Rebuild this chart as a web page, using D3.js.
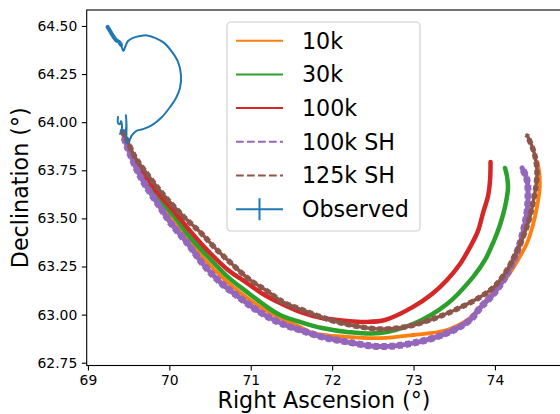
<!DOCTYPE html>
<html>
<head>
<meta charset="utf-8">
<script src="https://cdn.jsdelivr.net/npm/d3@7/dist/d3.min.js"></script>
<style>
  body { margin: 0; background: #fff; }
  text { font-family: "DejaVu Sans", sans-serif; }
</style>
</head>
<body>
<svg id="chart" width="560" height="414"></svg>
<script>
var raTicks = [69, 70, 71, 72, 73, 74]
  , decTicks = [62.75, 63.00, 63.25, 63.50, 63.75, 64.00, 64.25, 64.50]
  , labels = ['10k', '30k', '100k', '100k SH', '125k SH', 'Observed']

var ra10k = [69.444, 69.493, 69.591, 69.701, 69.873, 70.033, 70.254, 70.463, 70.684, 70.893, 71.114, 71.360, 71.606, 71.765, 72.183, 72.588, 72.994, 73.411, 73.694, 73.817, 74.001, 74.148, 74.283, 74.394, 74.467, 74.516, 74.548, 74.548, 74.523]
  , dec10k = [63.928, 63.876, 63.778, 63.694, 63.590, 63.492, 63.383, 63.273, 63.180, 63.107, 63.040, 62.982, 62.936, 62.904, 62.884, 62.878, 62.894, 62.920, 62.982, 63.040, 63.128, 63.195, 63.284, 63.372, 63.466, 63.559, 63.648, 63.720, 63.793]

var ra30k = [69.431, 69.480, 69.579, 69.689, 69.861, 70.058, 70.254, 70.500, 70.721, 70.955, 71.151, 71.360, 71.606, 71.876, 72.183, 72.588, 72.994, 73.411, 73.730, 73.878, 73.976, 74.062, 74.123, 74.160, 74.148, 74.123]
  , dec30k = [63.944, 63.897, 63.798, 63.715, 63.611, 63.512, 63.403, 63.289, 63.195, 63.117, 63.055, 62.998, 62.962, 62.930, 62.910, 62.904, 62.951, 63.055, 63.195, 63.284, 63.372, 63.466, 63.559, 63.658, 63.720, 63.762]

var ra100k = [69.419, 69.468, 69.566, 69.677, 69.849, 70.045, 70.254, 70.500, 70.721, 70.955, 71.151, 71.360, 71.606, 71.876, 72.183, 72.404, 72.650, 72.994, 73.227, 73.411, 73.571, 73.694, 73.792, 73.853, 73.915, 73.940, 73.946]
  , dec100k = [63.954, 63.907, 63.814, 63.736, 63.637, 63.544, 63.435, 63.320, 63.232, 63.164, 63.107, 63.060, 63.014, 62.982, 62.967, 62.962, 62.972, 63.040, 63.107, 63.180, 63.263, 63.351, 63.435, 63.528, 63.616, 63.700, 63.793]

var ra100kSH = [69.444, 69.493, 69.603, 69.714, 69.886, 70.009, 70.230, 70.414, 70.623, 70.820, 71.016, 71.213, 71.422, 71.606, 71.876, 72.183, 72.588, 72.994, 73.411, 73.694, 73.817, 74.001, 74.148, 74.271, 74.345, 74.394, 74.406, 74.394, 74.333]
  , dec100kSH = [63.918, 63.861, 63.752, 63.668, 63.559, 63.481, 63.367, 63.263, 63.169, 63.102, 63.040, 62.988, 62.946, 62.920, 62.884, 62.858, 62.834, 62.852, 62.904, 62.972, 63.034, 63.117, 63.211, 63.325, 63.429, 63.533, 63.611, 63.700, 63.762]

var ra125kSH = [69.431, 69.480, 69.579, 69.701, 69.849, 69.972, 70.168, 70.377, 70.586, 70.782, 70.991, 71.200, 71.397, 71.606, 71.974, 72.281, 72.588, 72.895, 73.202, 73.509, 73.817, 74.001, 74.148, 74.259, 74.345, 74.419, 74.467, 74.504, 74.516, 74.479, 74.394]
  , dec125kSH = [63.954, 63.907, 63.819, 63.746, 63.663, 63.601, 63.512, 63.429, 63.336, 63.258, 63.180, 63.123, 63.065, 63.029, 62.972, 62.941, 62.925, 62.936, 62.972, 63.024, 63.091, 63.149, 63.232, 63.320, 63.403, 63.492, 63.580, 63.668, 63.752, 63.845, 63.933]

var raObs = [69.241, 69.272, 69.308, 69.345, 69.382, 69.407, 69.437, 69.462, 69.493, 69.554, 69.640, 69.726, 69.824, 69.935, 70.033, 70.107, 70.143, 70.131, 70.082, 70.009, 69.910, 69.787, 69.677, 69.591, 69.542, 69.505, 69.480, 69.474, 69.468, 69.462, 69.419, 69.394, 69.419, 69.407, 69.394, 69.370, 69.370]
  , decObs = [64.495, 64.474, 64.448, 64.427, 64.417, 64.401, 64.370, 64.396, 64.422, 64.438, 64.448, 64.451, 64.438, 64.412, 64.365, 64.313, 64.245, 64.178, 64.126, 64.079, 64.027, 63.985, 63.964, 63.954, 63.933, 63.902, 63.892, 63.985, 64.037, 63.959, 63.954, 63.938, 63.970, 64.006, 63.990, 63.996, 64.027]

var svg = d3.select('svg#chart')
  , pLeft = 86.7, pRight = 561.3, pTop = 10, pBottom = 365.5

var x = d3.scaleLinear().domain([68.985, 74.815]).range([pLeft, pRight])
  , y = d3.scaleLinear().domain([62.7355, 64.583]).range([pBottom, pTop])

var zip = function(ra, dec) { return ra.map(function(r, i) { return [r, dec[i]] }) }

var line = d3.line()
  .x(function(d) { return x(d[0]) })
  .y(function(d) { return y(d[1]) })
  .curve(d3.curveCatmullRom)

svg.append('clipPath').attr('id', 'plot')
  .append('rect').attr('x', pLeft).attr('y', pTop)
  .attr('width', pRight - pLeft).attr('height', pBottom - pTop)

var plot = svg.append('g').attr('clip-path', 'url(#plot)')

// each model is a band of many tracks: thick stroke, dashed ones get a jagged outer layer
var models = [
  { pts: zip(ra10k, dec10k), color: '#ff7f0e', w: 3.8 },
  { pts: zip(ra30k, dec30k), color: '#2ca02c', w: 4.5 },
  { pts: zip(ra100k, dec100k), color: '#d62728', w: 4.5 },
  { pts: zip(ra100kSH, dec100kSH), color: '#9467bd', w: 5, dash: 7 },
  { pts: zip(ra125kSH, dec125kSH), color: '#8c564b', w: 3.5, dash: 5.5 }
]

models.forEach(function(m) {
  plot.append('path').attr('d', line(m.pts))
    .attr('fill', 'none').attr('stroke', m.color)
    .attr('stroke-width', m.w).attr('stroke-linecap', 'round')
  if (m.dash) {
    plot.append('path').attr('d', line(m.pts))
      .attr('fill', 'none').attr('stroke', m.color)
      .attr('stroke-width', m.dash).attr('stroke-dasharray', '5,3')
  }
})

plot.append('path').attr('d', line(zip(raObs, decObs)))
  .attr('fill', 'none').attr('stroke', '#1f77b4')
  .attr('stroke-width', 2).attr('stroke-linejoin', 'round').attr('stroke-linecap', 'round')

// thicker start of the observed track
plot.append('path').attr('d', line(zip(raObs.slice(0, 6), decObs.slice(0, 6))))
  .attr('fill', 'none').attr('stroke', '#1f77b4')
  .attr('stroke-width', 4).attr('stroke-linecap', 'round')

// axes
var xAxis = d3.axisBottom(x).tickValues(raTicks).tickSize(4.9).tickPadding(4.5).tickFormat(d3.format('d'))
  , yAxis = d3.axisLeft(y).tickValues(decTicks).tickSize(4.9).tickPadding(4.5).tickFormat(d3.format('.2f'))

var gx = svg.append('g').attr('transform', 'translate(0,' + pBottom + ')').call(xAxis)
var gy = svg.append('g').attr('transform', 'translate(' + pLeft + ',0)').call(yAxis)

;[gx, gy].forEach(function(g) {
  g.attr('font-size', null).attr('font-family', null)
  g.select('.domain').remove()
  g.selectAll('line').attr('stroke', '#000').attr('stroke-width', 1.1)
  g.selectAll('text').style('font-size', '13.9px').attr('fill', '#000')
})

svg.append('rect').attr('x', pLeft).attr('y', pTop)
  .attr('width', pRight - pLeft).attr('height', pBottom - pTop)
  .attr('fill', 'none').attr('stroke', '#000').attr('stroke-width', 1.1)

svg.append('text').attr('x', (pLeft + pRight) / 2).attr('y', 408)
  .attr('text-anchor', 'middle').style('font-size', '22.2px')
  .text('Right Ascension (°)')

svg.append('text').attr('transform', 'translate(28,' + (pTop + pBottom) / 2 + ') rotate(-90)')
  .attr('text-anchor', 'middle').style('font-size', '22.2px')
  .text('Declination (°)')

// legend
var lg = svg.append('g')
lg.append('rect').attr('x', 227).attr('y', 22).attr('width', 193).attr('height', 209)
  .attr('rx', 4).attr('fill', '#fff').attr('fill-opacity', 0.8)
  .attr('stroke', '#cccccc').attr('stroke-width', 1.1)

var colors = ['#ff7f0e', '#2ca02c', '#d62728', '#9467bd', '#8c564b', '#1f77b4']
  , dashed = [false, false, false, true, true, false]

labels.forEach(function(name, i) {
  var cy = 40.7 + i * 33.7
  lg.append('line').attr('x1', 236).attr('x2', 283).attr('y1', cy).attr('y2', cy)
    .attr('stroke', colors[i]).attr('stroke-width', 2)
    .attr('stroke-dasharray', dashed[i] ? '7.7,3.3' : null)
  if (name === 'Observed') {
    lg.append('line').attr('x1', 259.5).attr('x2', 259.5).attr('y1', cy - 11).attr('y2', cy + 11)
      .attr('stroke', colors[i]).attr('stroke-width', 2)
  }
  lg.append('text').attr('x', 302).attr('y', cy).attr('dy', '0.36em')
    .style('font-size', '22.2px').text(name)
})
</script>
</body>
</html>
